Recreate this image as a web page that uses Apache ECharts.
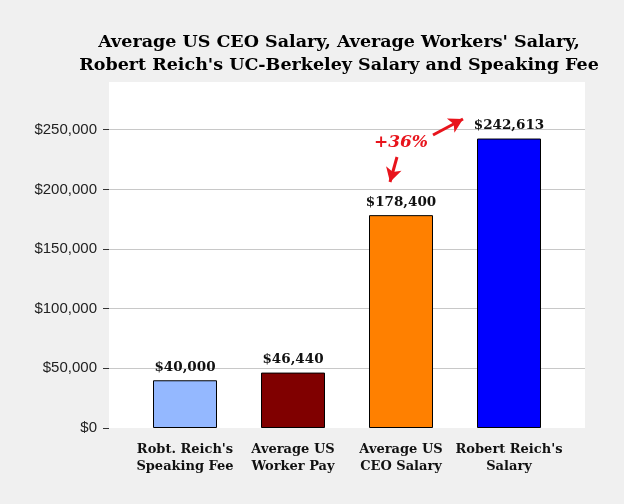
<!DOCTYPE html>
<html>
<head>
<meta charset="utf-8">
<script src="https://cdn.jsdelivr.net/npm/echarts@6/dist/echarts.min.js"></script>
<style>html,body{margin:0;padding:0;background:#f0f0f0;}#c{width:624px;height:504px;}</style>
</head>
<body>
<div id="c"></div>
<script>
const titleText = "Average US CEO Salary, Average Workers' Salary,\nRobert Reich's UC-Berkeley Salary and Speaking Fee";
const categories = ["Robt. Reich's\nSpeaking Fee", "Average US\nWorker Pay", "Average US\nCEO Salary", "Robert Reich's\nSalary"];
const values = [40000, 46440, 178400, 242613];
const barColors = ['#94b8ff', '#800000', '#ff8000', '#0000ff'];
const yTicks = [0, 50000, 100000, 150000, 200000, 250000];
const annotationText = '+36%';

const serif = "'DejaVu Serif', Georgia, serif";
const fmt = v => '$' + Number(v).toLocaleString('en-US');

const chart = echarts.init(document.getElementById('c'), null, {renderer: 'canvas'});
chart.setOption({
  backgroundColor: '#f0f0f0',
  animation: false,
  title: {
    text: titleText,
    left: 334, top: 26, textAlign: 'center',
    textStyle: {fontFamily: serif, fontWeight: 'bold', fontSize: 17.5, lineHeight: 23, color: '#000'}
  },
  grid: [
    {left: 109, top: 82, width: 476, height: 346, show: true, backgroundColor: '#ffffff', borderWidth: 0},
    {left: 131, top: 82, width: 432, height: 346}
  ],
  xAxis: [
    {gridIndex: 0, type: 'category', data: categories, show: false},
    {gridIndex: 1, type: 'category', data: categories,
     axisLine: {show: false}, axisTick: {show: false},
     axisLabel: {margin: 13, fontFamily: serif, fontWeight: 'bold', fontSize: 13, lineHeight: 17, color: '#111', interval: 0}}
  ],
  yAxis: [
    {gridIndex: 0, type: 'value', min: 0, max: 290000, interval: 50000,
     axisLine: {show: false},
     axisTick: {show: true, length: 6, customValues: yTicks, lineStyle: {color: '#333'}},
     axisLabel: {customValues: yTicks, formatter: fmt, margin: 12, fontFamily: "'Liberation Sans', Arial, sans-serif", fontSize: 15, color: '#222'},
     splitLine: {show: true, lineStyle: {color: ['rgba(0,0,0,0)', '#c8c8c8', '#c8c8c8', '#c8c8c8', '#c8c8c8', '#c8c8c8', 'rgba(0,0,0,0)'], width: 1}}},
    {gridIndex: 1, type: 'value', min: 0, max: 290000, show: false, splitLine: {show: false}}
  ],
  series: [{
    type: 'bar', xAxisIndex: 1, yAxisIndex: 1, barWidth: 64,
    data: values.map((v, i) => ({value: v, itemStyle: {color: barColors[i]}})),
    itemStyle: {borderColor: '#000', borderWidth: 1},
    label: {show: true, position: 'top', distance: 6, formatter: p => fmt(p.value),
            fontFamily: serif, fontWeight: 'bold', fontSize: 13.5, color: '#111'},
    markLine: {
      silent: true, symbol: ['none', 'arrow'], symbolSize: [12, 14], label: {show: false},
      lineStyle: {color: '#e8141c', width: 3, type: 'solid'},
      data: [
        [{x: 397, y: 157}, {x: 390, y: 182}],
        [{x: 433, y: 135}, {x: 463, y: 119}]
      ]
    }
  }],
  graphic: [{
    type: 'text', x: 401, y: 143,
    style: {text: annotationText, textAlign: 'center', textVerticalAlign: 'middle',
            font: "italic bold 17px 'DejaVu Serif', serif", fill: '#e8141c'}
  }]
});
</script>
</body>
</html>
